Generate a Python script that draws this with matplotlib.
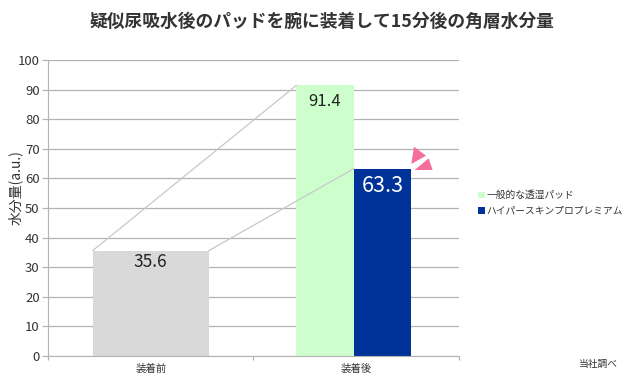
import matplotlib
matplotlib.use("Agg")
import matplotlib.pyplot as plt
from matplotlib.patches import Polygon
from matplotlib.transforms import Affine2D

plt.rcParams['font.family'] = ['Noto Sans CJK JP', 'DejaVu Sans']

title = "疑似尿吸水後のパッドを腕に装着して15分後の角層水分量"
categories = ["装着前", "装着後"]
before_value = 35.6
series_names = ["一般的な透湿パッド", "ハイパースキンプロプレミアム"]
after_values = [91.4, 63.3]
ylabel = "水分量(a.u.)"
yticks = [0, 10, 20, 30, 40, 50, 60, 70, 80, 90, 100]
footnote = "当社調べ"

c_gray = "#d9d9d9"
c_green = "#ccffcc"
c_blue = "#003399"
c_pink = "#f56f9c"
c_grid = "#b3b3b3"

fig = plt.figure(figsize=(6.25, 3.77), dpi=100)
ax = fig.add_axes([48/625, 1-356/377, 411/625, 296/377])

ax.set_xlim(-0.5, 1.5)
ax.set_ylim(0, 100)
ax.set_yticks(yticks)
ax.set_xticks([-0.5, 0.5, 1.5])
ax.set_xticklabels([])
ax.grid(axis='y', color=c_grid, linewidth=0.9)
ax.set_axisbelow(True)
for s in ['top', 'right']:
    ax.spines[s].set_visible(False)
for s in ['left', 'bottom']:
    ax.spines[s].set_color(c_grid)
ax.tick_params(axis='y', colors=c_grid, labelcolor='#333333', labelsize=9.5, length=4, width=0.9, pad=2)
ax.tick_params(axis='x', colors=c_grid, length=3, width=0.9)

w0 = 0.565
w1 = 0.28
pair_center = 0.988
x_green = pair_center - w1/2
x_blue = pair_center + w1/2
ax.bar(0, before_value, width=w0, color=c_gray, zorder=2)
bg = ax.bar(x_green, after_values[0], width=w1, color=c_green, zorder=2, label=series_names[0])
bb = ax.bar(x_blue, after_values[1], width=w1, color=c_blue, zorder=2, label=series_names[1])

# connector lines
ax.plot([0 - w0/2, x_green - w1/2], [before_value, after_values[0]], color="#c8c8c8", lw=0.9, zorder=3)
ax.plot([0 + w0/2, x_blue - w1/2], [before_value, after_values[1]], color="#c8c8c8", lw=0.9, zorder=3)

# value labels
ax.annotate(f"{before_value}", (0, before_value), xytext=(0, -11), textcoords='offset pixels',
            ha='center', va='center', fontsize=12.5, color='#222222', zorder=4)
ax.annotate(f"{after_values[0]}", (x_green, after_values[0]), xytext=(0, -16), textcoords='offset pixels',
            ha='center', va='center', fontsize=12, color='#222222', zorder=4)
ax.annotate(f"{after_values[1]}", (x_blue, after_values[1]), xytext=(0, -17), textcoords='offset pixels',
            ha='center', va='center', fontsize=15.5, color='white', zorder=4)

# category labels
for i, c in enumerate(categories):
    ax.text(i, -2.5, c, ha='center', va='top', fontsize=7.5, color='#333333')

fig.text(15/625, 1-188/377, ylabel, rotation=90, ha='center', va='center', fontsize=10, color='#333333')

fig.text(322/625, 1-22/377, title, ha='center', va='center', fontsize=12.8,
         fontweight='bold', color='#333333')
fig.text(598/625, 1-364/377, footnote, ha='center', va='center', fontsize=7, color='#333333')

# legend
leg = fig.legend(handles=[bg, bb], labels=series_names, loc='center left',
                 bbox_to_anchor=(474/625, 1-203/377), frameon=False, fontsize=7,
                 handlelength=0.7, handleheight=0.7, handletextpad=0.2, labelspacing=0.55,
                 borderaxespad=0)
for t in leg.get_texts():
    t.set_color('#333333')

# pink burst decoration at blue bar corner
fig.canvas.draw()
cx, cy = ax.transData.transform((x_blue + w1/2, after_values[1]))
tr = Affine2D().scale(1, -1).translate(cx, cy)
upper = [(2.7, -21.9), (14.7, -12.9), (0.0, -4.6)]
lower = [(3.3, 1.4), (17.3, -10.3), (21.3, 1.4)]
for pts in (upper, lower):
    p = Polygon(pts, closed=True, facecolor=c_pink, edgecolor='none', transform=tr, zorder=5)
    fig.patches.append(p)
    p.set_figure(fig)

fig.savefig("out.png", dpi=100)
